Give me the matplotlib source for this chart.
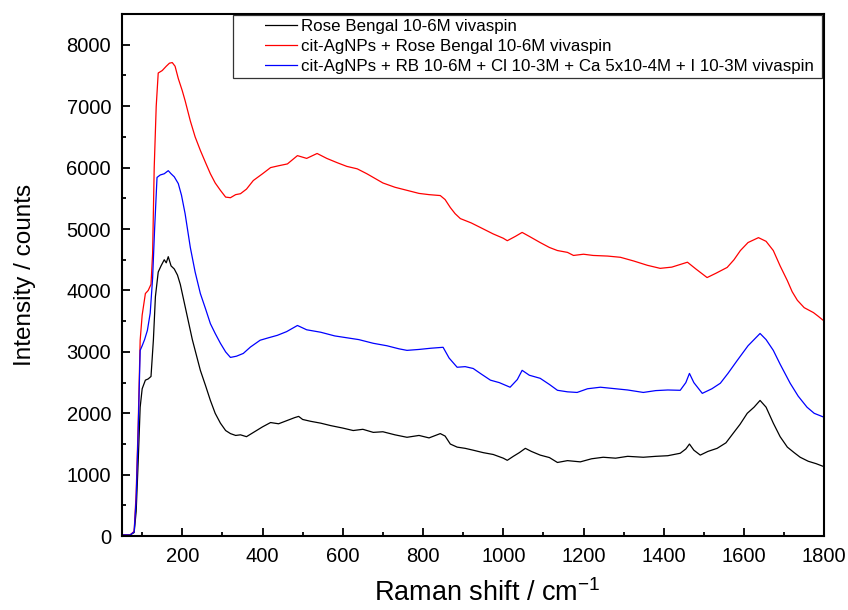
import matplotlib
matplotlib.use('Agg')
import matplotlib.pyplot as plt
from matplotlib.lines import Line2D
from matplotlib.ticker import MultipleLocator

plt.rcParams['font.family'] = ['Liberation Sans', 'DejaVu Sans']
plt.rcParams['mathtext.fontset'] = 'custom'
plt.rcParams['mathtext.rm'] = 'Liberation Sans'
plt.rcParams['mathtext.default'] = 'regular'

# Rose Bengal 10-6M vivaspin (black)
x_rb = [50, 70, 80, 85, 90, 95, 100, 108, 115, 122, 128, 133, 140, 147, 155, 160, 165, 172,
        180, 188, 195, 205, 215, 225, 235, 245, 258, 270, 282, 295, 308, 320, 333, 345, 360,
        380, 400, 420, 440, 460, 480, 490, 500, 520, 545, 570, 600, 626, 650, 676, 700, 730,
        760, 790, 815, 843, 855, 868, 885, 905, 925, 950, 975, 1000, 1010, 1025, 1040, 1055,
        1070, 1092, 1115, 1135, 1160, 1192, 1220, 1249, 1280, 1310, 1349, 1380, 1410, 1441,
        1455, 1464, 1475, 1491, 1510, 1533, 1555, 1573, 1590, 1608, 1625, 1640, 1655, 1673,
        1690, 1708, 1725, 1740, 1760, 1780, 1800]
y_rb = [20, 20, 60, 400, 1200, 2100, 2400, 2540, 2560, 2600, 3200, 3900, 4300, 4400, 4500, 4450,
        4550, 4400, 4350, 4250, 4100, 3800, 3500, 3200, 2950, 2700, 2450, 2210, 2000, 1840,
        1720, 1670, 1640, 1650, 1620, 1700, 1780, 1850, 1830, 1880, 1930, 1950, 1900, 1870,
        1840, 1800, 1760, 1720, 1740, 1690, 1700, 1650, 1610, 1640, 1600, 1670, 1630, 1500,
        1450, 1430, 1400, 1360, 1330, 1270, 1235, 1300, 1360, 1430, 1380, 1320, 1280, 1200,
        1230, 1210, 1260, 1285, 1270, 1300, 1285, 1300, 1310, 1350, 1420, 1500, 1400, 1320,
        1380, 1430, 1520, 1675, 1820, 2000, 2100, 2210, 2100, 1840, 1620, 1450, 1360, 1285,
        1220, 1180, 1130]

# cit-AgNPs + Rose Bengal 10-6M vivaspin (red)
x_ag = [50, 70, 80, 85, 90, 95, 100, 108, 115, 122, 126, 130, 135, 140, 150, 160, 168, 175, 182,
        190, 200, 207, 220, 232, 245, 258, 270, 282, 295, 308, 320, 333, 345, 360, 377, 400, 420,
        440, 462, 487, 510, 536, 560, 586, 610, 636, 660, 676, 700, 730, 760, 790, 815, 843, 855,
        868, 880, 893, 920, 943, 975, 1000, 1010, 1030, 1047, 1065, 1092, 1115, 1135, 1160, 1175,
        1200, 1224, 1260, 1292, 1325, 1359, 1391, 1420, 1459, 1480, 1508, 1530, 1558, 1575, 1591,
        1610, 1636, 1655, 1673, 1690, 1708, 1720, 1733, 1750, 1773, 1785, 1800]
y_ag = [20, 20, 80, 700, 1800, 3190, 3600, 3950, 4000, 4100, 4600, 6000, 7000, 7540, 7580, 7650,
        7700, 7710, 7650, 7450, 7250, 7090, 6760, 6500, 6280, 6080, 5900, 5750, 5630, 5520, 5510,
        5560, 5575, 5650, 5790, 5900, 6000, 6030, 6060, 6195, 6150, 6230, 6150, 6080, 6020, 5980,
        5900, 5840, 5750, 5680, 5630, 5580, 5560, 5545, 5480, 5350, 5250, 5170, 5100, 5025, 4920,
        4850, 4810, 4880, 4945, 4880, 4780, 4700, 4650, 4620, 4570, 4590, 4570, 4560, 4540, 4480,
        4410, 4360, 4380, 4460, 4350, 4210, 4280, 4375, 4500, 4650, 4780, 4860, 4800, 4650, 4400,
        4160, 3980, 3840, 3720, 3640, 3580, 3500]

# cit-AgNPs + RB + Cl + Ca + I vivaspin (blue)
x_mix = [50, 70, 80, 85, 90, 95, 100, 106, 113, 120, 126, 131, 137, 145, 155, 165, 172, 180, 190,
         198, 207, 220, 232, 245, 258, 270, 282, 295, 308, 320, 335, 352, 370, 394, 415, 437, 460,
         487, 510, 545, 580, 610, 640, 676, 710, 740, 760, 790, 820, 850, 865, 885, 905, 925, 945,
         968, 990, 1017, 1035, 1047, 1065, 1092, 1115, 1135, 1160, 1184, 1210, 1242, 1280, 1310,
         1349, 1380, 1410, 1441, 1455, 1464, 1475, 1496, 1520, 1541, 1560, 1583, 1610, 1640, 1655,
         1673, 1690, 1715, 1735, 1757, 1775, 1800]
y_mix = [20, 20, 70, 600, 1700, 3025, 3100, 3200, 3350, 3630, 4200, 5000, 5840, 5880, 5900, 5950,
         5900, 5850, 5740, 5550, 5250, 4700, 4300, 3950, 3700, 3460, 3300, 3140, 3000, 2910, 2930,
         2975, 3080, 3190, 3230, 3270, 3330, 3430, 3360, 3320, 3260, 3230, 3200, 3140, 3100, 3050,
         3025, 3040, 3060, 3075, 2900, 2750, 2760, 2730, 2640, 2540, 2500, 2425, 2550, 2700, 2620,
         2570, 2470, 2375, 2350, 2340, 2400, 2425, 2400, 2380, 2340, 2370, 2380, 2375, 2500, 2650,
         2500, 2325, 2400, 2490, 2650, 2860, 3100, 3300, 3200, 3025, 2800, 2490, 2280, 2100, 2000,
         1935]

labels = ['Rose Bengal 10-6M vivaspin',
          'cit-AgNPs + Rose Bengal 10-6M vivaspin',
          'cit-AgNPs + RB 10-6M + Cl 10-3M + Ca 5x10-4M + I 10-3M vivaspin']
colors = ['black', 'red', 'blue']

fig = plt.figure(figsize=(8.48, 6.10), dpi=100)
ax = fig.add_axes([0.144, 0.121, 0.828, 0.856])

ax.plot(x_rb, y_rb, color=colors[0], lw=0.9)
ax.plot(x_ag, y_ag, color=colors[1], lw=0.9)
ax.plot(x_mix, y_mix, color=colors[2], lw=0.9)

ax.set_xlim(50, 1800)
ax.set_ylim(0, 8500)
ax.xaxis.set_major_locator(MultipleLocator(200))
ax.xaxis.set_minor_locator(MultipleLocator(100))
ax.yaxis.set_major_locator(MultipleLocator(1000))
ax.yaxis.set_minor_locator(MultipleLocator(500))
ax.tick_params(which='both', direction='in', top=False, right=False, labelsize=14.5,
               width=1.3, pad=8)
ax.tick_params(which='major', length=5.5)
ax.tick_params(which='minor', length=3)
for s in ax.spines.values():
    s.set_linewidth(1.5)

ax.set_xlabel('Raman shift / cm$^{-1}$', fontsize=19.5, labelpad=9, x=0.52)
ax.set_ylabel('Intensity / counts', fontsize=17.5, labelpad=22)

# legend lines start after a blank gap, like the original
handles = [Line2D([], [], color=c, lw=0.9, linestyle=(26.5, (26.5, 22)))
           for c in colors]
leg = ax.legend(handles, labels, loc='upper right', mode='expand',
                bbox_to_anchor=(0.158, 0.0, 0.839, 0.999), fontsize=12.2, frameon=True,
                fancybox=False, borderaxespad=0.0, handlelength=3.58, handletextpad=0.2,
                labelspacing=0.3, borderpad=0.25)
leg.get_frame().set_edgecolor('black')
leg.get_frame().set_linewidth(0.9)

fig.savefig('out.png', dpi=100)
